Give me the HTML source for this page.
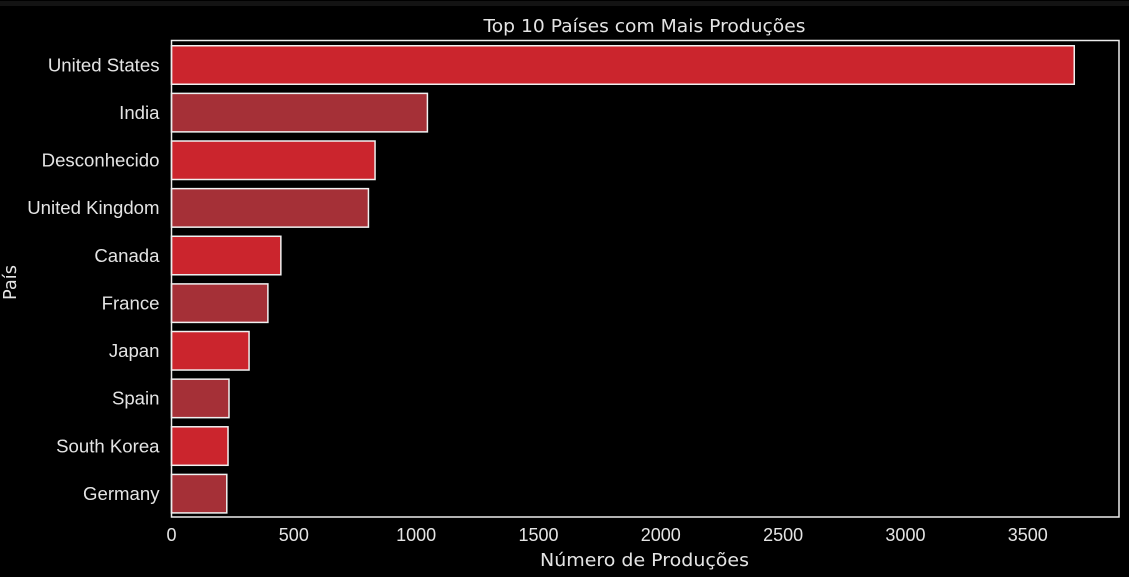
<!DOCTYPE html>
<html lang="pt">
<head>
<meta charset="utf-8">
<title>Top 10 Países com Mais Produções</title>
<style>
html,body{margin:0;padding:0;background:#000;width:1129px;height:577px;overflow:hidden}
svg{display:block}
text{fill:#e4e4e4}
.tick{font-family:"Liberation Sans",sans-serif;font-size:18px}
.ylabel{font-size:18.6px}
.head{font-family:"DejaVu Sans",sans-serif;font-size:18px}
</style>
</head>
<body>
<svg id="chart" width="1129" height="577" viewBox="0 0 1129 577">
  <rect x="0" y="0" width="1129" height="577" fill="#000"/>
  <rect x="0" y="1" width="1129" height="5" fill="#131313"/>
  <text class="head" x="644.5" y="32" text-anchor="middle" textLength="322" lengthAdjust="spacingAndGlyphs">Top 10 Países com Mais Produções</text>
  <text class="head" x="644.5" y="566" text-anchor="middle" textLength="209" lengthAdjust="spacingAndGlyphs">Número de Produções</text>
  <text class="head" transform="translate(16,282.5) rotate(-90)" text-anchor="middle" textLength="35" lengthAdjust="spacingAndGlyphs">País</text>
  <g id="bars"></g>
  <g id="yticks"></g>
  <g id="xticks"></g>
  <rect x="171.5" y="40.5" width="947.5" height="476.5" fill="none" stroke="#ececec" stroke-width="1.5"/>
</svg>
<script>
const categories = ["United States","India","Desconhecido","United Kingdom","Canada","France","Japan","Spain","South Korea","Germany"];
const values = [3690,1046,832,805,447,394,317,235,231,226];
const xTicks = [0,500,1000,1500,2000,2500,3000,3500];

const NS = "http://www.w3.org/2000/svg";
const plotLeft = 171.5, pxPerUnit = 0.24465;
const firstCenter = 65, step = 47.63, barHeight = 38.5;
const x = v => plotLeft + v * pxPerUnit;
const y = i => firstCenter + i * step;

const barsG = document.getElementById("bars");
const yG = document.getElementById("yticks");
const xG = document.getElementById("xticks");

categories.forEach((c, i) => {
  const r = document.createElementNS(NS, "rect");
  r.setAttribute("x", x(0));
  r.setAttribute("y", y(i) - barHeight / 2);
  r.setAttribute("width", x(values[i]) - x(0));
  r.setAttribute("height", barHeight);
  r.setAttribute("fill", i % 2 === 0 ? "#cb252d" : "#a53037");
  r.setAttribute("stroke", "#f0f0f0");
  r.setAttribute("stroke-width", "1.5");
  
  
  barsG.appendChild(r);

  const t = document.createElementNS(NS, "text");
  t.setAttribute("class", "tick ylabel");
  t.setAttribute("x", 159.5);
  t.setAttribute("y", y(i) + 6.3);
  t.setAttribute("text-anchor", "end");
  
  
  t.textContent = c;
  yG.appendChild(t);
});

xTicks.forEach(v => {
  const t = document.createElementNS(NS, "text");
  t.setAttribute("class", "tick");
  t.setAttribute("x", x(v));
  t.setAttribute("y", 541);
  t.setAttribute("text-anchor", "middle");
  
  
  t.textContent = v;
  xG.appendChild(t);
});
</script>
</body>
</html>
